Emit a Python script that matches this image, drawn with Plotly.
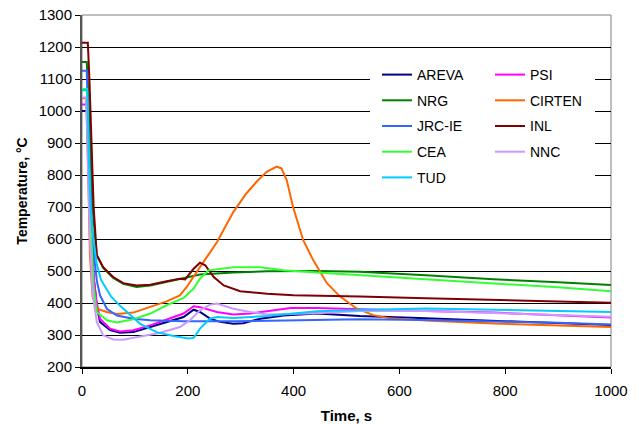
import plotly.graph_objects as go

# ---- data (time s, temperature °C) ----
areva_t = [0, 9, 12, 17, 22, 28, 34, 53, 72, 97, 129, 160, 192, 211, 223, 242, 261, 286, 305, 337, 381, 444, 525, 650, 778, 900, 1000]
areva_T = [1000, 1000, 900, 650, 480, 390, 341, 315, 307, 309, 325, 341, 356, 379, 372, 351, 341, 335, 337, 351, 361, 367, 359, 352, 345, 338, 331]

psi_t = [0, 9, 12, 17, 22, 28, 34, 53, 72, 97, 129, 160, 192, 211, 223, 255, 286, 318, 350, 394, 444, 525, 650, 778, 900, 1000]
psi_T = [1020, 1020, 900, 650, 480, 400, 351, 320, 311, 315, 330, 349, 367, 390, 387, 372, 364, 367, 374, 384, 384, 380, 375, 370, 362, 355]

nrg_t = [0, 9, 12, 16, 20, 25, 28, 40, 59, 78, 103, 129, 160, 185, 200, 223, 286, 350, 444, 525, 650, 778, 900, 1000]
nrg_T = [1153, 1153, 1050, 850, 700, 600, 549, 510, 478, 460, 450, 455, 466, 474, 480, 489, 495, 499, 500, 498, 487, 474, 465, 456]

cirten_t = [0, 8, 11, 15, 20, 28, 47, 66, 97, 129, 160, 185, 198, 223, 255, 286, 311, 330, 349, 368, 377, 387, 399, 418, 437, 463, 488, 519, 551, 582, 650, 778, 900, 1000]
cirten_T = [1040, 1040, 850, 550, 420, 382, 372, 366, 370, 387, 405, 424, 450, 512, 590, 684, 743, 779, 810, 826, 821, 784, 700, 597, 534, 462, 420, 383, 362, 352, 345, 336, 330, 325]

jrc_t = [0, 9, 12, 17, 22, 28, 34, 47, 66, 97, 129, 192, 286, 444, 525, 650, 778, 900, 1000]
jrc_T = [1126, 1126, 950, 700, 560, 470, 424, 382, 361, 351, 346, 343, 343, 346, 349, 347, 343, 338, 333]

inl_t = [0, 11, 14, 18, 22, 28, 40, 59, 78, 103, 129, 160, 185, 195, 211, 223, 233, 249, 268, 299, 350, 400, 444, 525, 650, 778, 900, 1000]
inl_T = [1213, 1213, 1100, 900, 700, 549, 512, 481, 462, 455, 457, 468, 476, 474, 507, 526, 518, 481, 455, 437, 429, 424, 422, 420, 415, 409, 405, 401]

cea_t = [0, 9, 12, 17, 22, 28, 47, 66, 97, 129, 160, 192, 211, 223, 239, 255, 286, 337, 381, 444, 525, 650, 778, 900, 1000]
cea_T = [1069, 1069, 900, 620, 450, 372, 346, 339, 349, 367, 393, 416, 445, 476, 502, 505, 512, 512, 502, 495, 487, 474, 461, 449, 437]

nnc_t = [0, 8, 11, 15, 20, 28, 40, 59, 78, 110, 148, 185, 204, 223, 242, 255, 286, 318, 350, 444, 525, 650, 778, 900, 1000]
nnc_T = [1042, 1042, 850, 600, 430, 341, 299, 286, 285, 294, 307, 325, 346, 377, 395, 398, 382, 372, 364, 368, 375, 375, 368, 362, 357]

tud_t = [0, 10, 13, 16, 20, 24, 28, 36, 55, 74, 93, 110, 141, 173, 201, 211, 223, 242, 255, 286, 350, 444, 525, 651, 778, 900, 1000]
tud_T = [1065, 1065, 850, 700, 620, 566, 520, 472, 420, 388, 359, 335, 309, 297, 289, 291, 320, 351, 356, 353, 359, 374, 378, 383, 379, 375, 372]

series = [
    ("AREVA", areva_t, areva_T, "#000080", "legend"),
    ("PSI", psi_t, psi_T, "#FF00FF", "legend2"),
    ("NRG", nrg_t, nrg_T, "#008000", "legend"),
    ("CIRTEN", cirten_t, cirten_T, "#FF6600", "legend2"),
    ("JRC-IE", jrc_t, jrc_T, "#3366FF", "legend"),
    ("INL", inl_t, inl_T, "#800000", "legend2"),
    ("CEA", cea_t, cea_T, "#33FF33", "legend"),
    ("NNC", nnc_t, nnc_T, "#CC99FF", "legend2"),
    ("TUD", tud_t, tud_T, "#00CCFF", "legend"),
]

FONT = "Liberation Sans, Arial, sans-serif"

fig = go.Figure()
for name, t, T, color, lg in series:
    fig.add_trace(go.Scatter(x=t, y=T, mode="lines", name=name,
                             line=dict(color=color, width=2),
                             legend=lg, legendgroup=name))

W, H = 639, 424
L, R, TOP, B = 82, 28, 15, 57
pw, ph = W - L - R, H - TOP - B

def px(xp):
    return (xp - L) / pw

def py(yp):
    return (H - B - yp) / ph

leg_common = dict(bgcolor="rgba(0,0,0,0)", borderwidth=0,
                  font=dict(family=FONT, size=14, color="#000000"),
                  tracegroupgap=4.5, xanchor="left", yanchor="top",
                  orientation="v")

fig.update_layout(
    width=W, height=H,
    margin=dict(l=L, r=R, t=TOP, b=B, autoexpand=False),
    paper_bgcolor="white", plot_bgcolor="white",
    font=dict(family=FONT, size=15, color="#000000"),
    showlegend=True,
    legend=dict(x=px(377), y=py(59), **leg_common),
    legend2=dict(x=px(490), y=py(59), **leg_common),
    xaxis=dict(range=[0, 1000], dtick=200, showgrid=False, zeroline=False,
               automargin=False,
               showline=True, linecolor="#000000", linewidth=1.5,
               ticks="outside", ticklen=5, tickcolor="#000000",
               ticklabelstandoff=4,
               tickfont=dict(size=15),
               title=dict(text="<b>Time, s</b>", font=dict(size=15), standoff=14)),
    yaxis=dict(range=[200, 1300], dtick=100, showgrid=True, gridcolor="#000000",
               gridwidth=1, zeroline=False, automargin=False,
               showline=True, linecolor="#555555", linewidth=2,
               ticks="outside", ticklen=5, tickcolor="#000000",
               tickfont=dict(size=15),
               title=dict(text="<b>Temperature, °C</b>", font=dict(size=14), standoff=8)),
    shapes=[
        dict(type="rect", xref="paper", yref="paper", x0=0, x1=1, y0=0, y1=1,
             line=dict(color="#808080", width=1), layer="below"),
        dict(type="rect", xref="paper", yref="paper", x0=px(370), x1=px(595),
             y0=py(195), y1=py(55), fillcolor="white", line=dict(width=0),
             layer="above"),
    ],
)

fig.write_html("out.html")
